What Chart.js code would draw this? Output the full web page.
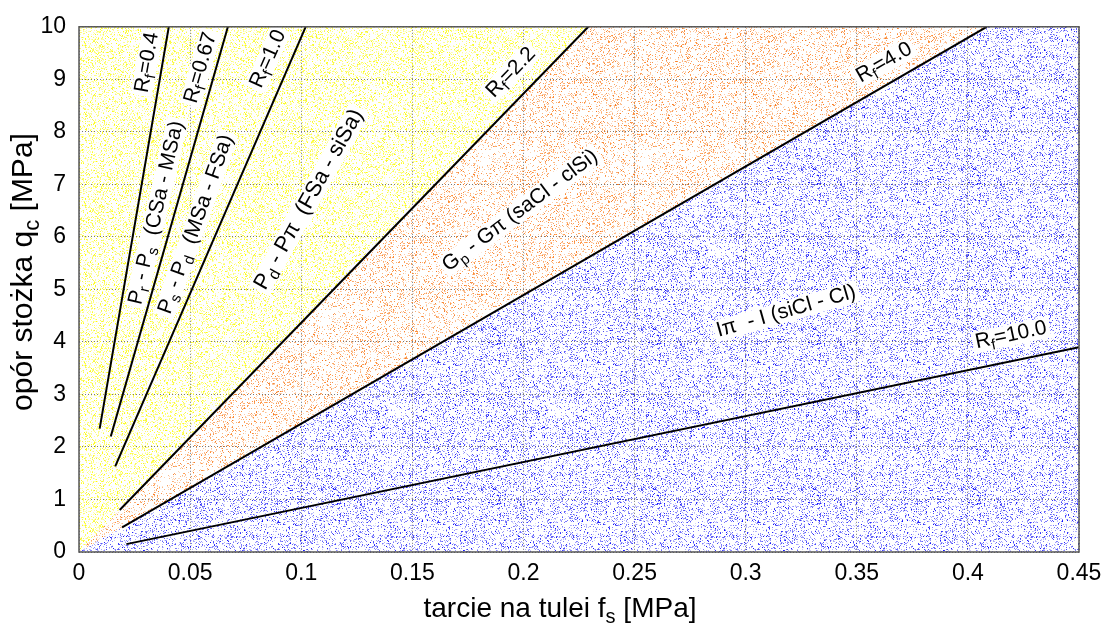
<!DOCTYPE html>
<html><head><meta charset="utf-8">
<script src="https://cdn.jsdelivr.net/npm/chart.js@4.4.0/dist/chart.umd.min.js"></script>
<style>html,body{margin:0;padding:0;background:#fff;}canvas{display:block;}</style>
</head><body>
<canvas id="c" width="1112" height="630"></canvas>
<script>
// ---- data ----
const rfNames = ["0.4", "0.67", "1.0", "2.2", "4.0", "10.0"];
const lineStartFs = [0.0093, 0.0143, 0.0163, 0.0183, 0.0194, 0.0213];
const lineStartQc = [2.35, 2.20, 1.63, 0.80, 0.47, 0.15];
const lineEndFs = [0.0404, 0.0670, 0.1020, 0.2292, 0.4085, 0.45];
const lineEndQc = [10, 10, 10, 10, 10, 3.90];

// zone boundaries (Rf=2.2 and Rf=4.0 lines extended to origin)
const zoneYellowFs = [0, 0.2292];
const zoneYellowQc = [0, 10];
const zoneOrangeFs = [0, 0.2292, 0.45];
const zoneOrangeQc = [0, 10, 10];
const zoneBlueFs = [0, 0.4085, 0.45];
const zoneBlueQc = [0, 10, 10];

const xTickLabels = ["0", "0.05", "0.1", "0.15", "0.2", "0.25", "0.3", "0.35", "0.4", "0.45"];
const yTickLabels = ["0", "1", "2", "3", "4", "5", "6", "7", "8", "9", "10"];

// ---- helpers ----
const FONT = "'Liberation Sans', Arial, Helvetica, sans-serif";
const pts = (xs, ys) => xs.map((x, i) => ({x: x, y: ys[i]}));

function makePattern(colors, density, seed) {
  const c = document.createElement('canvas');
  c.width = 160; c.height = 160;
  const g = c.getContext('2d');
  let s = seed >>> 0;
  const rnd = () => { s = (Math.imul(s, 1664525) + 1013904223) >>> 0; return s / 4294967296; };
  for (let y = 0; y < 160; y++) {
    for (let x = 0; x < 160; x++) {
      if (rnd() < density) {
        const col = colors[Math.floor(rnd() * colors.length)];
        const a = 0.25 + 0.75 * rnd();
        g.fillStyle = 'rgba(' + col + ',' + a.toFixed(2) + ')';
        g.fillRect(x, y, 1, 1);
      }
    }
  }
  return g.createPattern(c, 'repeat');
}

const ctx = document.getElementById('c').getContext('2d');
const patYellow = makePattern(['255,255,0', '245,245,30', '255,255,90'], 0.27, 12345);
const patOrange = makePattern(['255,135,40', '250,160,90', '245,120,30'], 0.19, 777);
const patBlue = makePattern(['10,10,255', '70,70,245', '120,120,250'], 0.23, 4242);

const lineDatasets = rfNames.map((n, i) => ({
  label: 'Rf=' + n,
  data: [{x: lineStartFs[i], y: lineStartQc[i]}, {x: lineEndFs[i], y: lineEndQc[i]}],
  showLine: true, borderColor: '#000', borderWidth: 2, pointRadius: 0, fill: false, order: 0
}));

const datasets = [
  ...lineDatasets,
  {label: 'zoneYellow', data: pts(zoneYellowFs, zoneYellowQc), showLine: true, borderWidth: 0,
   borderColor: 'rgba(0,0,0,0)', pointRadius: 0, backgroundColor: patYellow, fill: 'end', order: 3},
  {label: 'zoneBlue', data: pts(zoneBlueFs, zoneBlueQc), showLine: true, borderWidth: 0,
   borderColor: 'rgba(0,0,0,0)', pointRadius: 0, backgroundColor: patBlue, fill: 'origin', order: 2},
  {label: 'zoneOrange', data: pts(zoneOrangeFs, zoneOrangeQc), showLine: true, borderWidth: 0,
   borderColor: 'rgba(0,0,0,0)', pointRadius: 0, backgroundColor: patOrange, fill: 7, order: 2}
];

// text annotations placed in data coordinates
const annotations = [
  {fs: 0.0306, qc: 9.32, rot: -80, size: 21, parts: [["R"], ["f", 1], ["=0.4"]]},
  {fs: 0.0547, qc: 9.22, rot: -74, size: 21, parts: [["R"], ["f", 1], ["=0.67"]]},
  {fs: 0.0851, qc: 9.39, rot: -66, size: 21, parts: [["R"], ["f", 1], ["=1.0"]]},
  {fs: 0.1944, qc: 9.13, rot: -46, size: 21, parts: [["R"], ["f", 1], ["=2.2"]]},
  {fs: 0.3623, qc: 9.32, rot: -30, size: 21, parts: [["R"], ["f", 1], ["=4.0"]]},
  {fs: 0.4194, qc: 4.13, rot: -12, size: 21, parts: [["R"], ["f", 1], ["=10.0"]]},
  {fs: 0.0348, qc: 6.46, rot: -77, size: 21, parts: [["P"], ["r", 1], [" - P"], ["s", 1], ["  (CSa - MSa)"]]},
  {fs: 0.0526, qc: 6.24, rot: -70.5, size: 21, parts: [["P"], ["s", 1], [" - P"], ["d", 1], ["  (MSa - FSa)"]]},
  {fs: 0.1035, qc: 6.71, rot: -61, size: 22, parts: [["P"], ["d", 1], [" - P\u03c0  (FSa - siSa)"]]},
  {fs: 0.1985, qc: 6.50, rot: -37, size: 21, parts: [["G"], ["p", 1], [" - G\u03c0 (saCl - clSi)"]]},
  {fs: 0.3182, qc: 4.58, rot: -16, size: 21, parts: [["I\u03c0  - I (siCl - Cl)"]]}
];

function fontFor(p, size) { return (p[1] ? Math.round(size * 0.72) : size) + 'px ' + FONT; }

function measureParts(c, parts, size) {
  return parts.reduce((acc, p) => { c.font = fontFor(p, size); return acc + c.measureText(p[0]).width; }, 0);
}

function drawParts(c, parts, size, x0, y0, align) {
  const total = measureParts(c, parts, size);
  let x = align === 'center' ? x0 - total / 2 : x0;
  parts.forEach(p => {
    c.font = fontFor(p, size);
    c.fillText(p[0], x, y0 + (p[1] ? size * 0.3 : 0));
    x += c.measureText(p[0]).width;
  });
  return total;
}

const overlayPlugin = {
  id: 'overlay',
  afterDatasetsDraw(chart) {
    const c = chart.ctx, xs = chart.scales.x, ys = chart.scales.y, a = chart.chartArea;
    c.save();
    c.beginPath(); c.rect(a.left, a.top, a.right - a.left, a.bottom - a.top); c.clip();
    annotations.forEach(an => {
      const px = xs.getPixelForValue(an.fs), py = ys.getPixelForValue(an.qc);
      const size = an.size;
      c.save();
      c.translate(px, py);
      c.rotate(an.rot * Math.PI / 180);
      const w = measureParts(c, an.parts, size);
      c.fillStyle = '#fff';
      c.fillRect(-w / 2 - 3, -size * 0.5, w + 6, size * 1.0);
      c.fillStyle = '#000';
      c.textBaseline = 'middle';
      c.textAlign = 'left';
      drawParts(c, an.parts, size, 0, 0, 'center');
      c.restore();
    });
    c.restore();
    // frame
    c.save();
    c.strokeStyle = '#555';
    c.lineWidth = 1.5;
    c.strokeRect(a.left, a.top, a.right - a.left, a.bottom - a.top);
    c.restore();
  },
  afterDraw(chart) {
    const c = chart.ctx;
    c.save();
    c.fillStyle = '#000';
    c.textBaseline = 'middle';
    c.textAlign = 'left';
    drawParts(c, [["tarcie na tulei f"], ["s", 1], [" [MPa]"]], 28, 560, 609, 'center');
    c.translate(24, 272);
    c.rotate(-Math.PI / 2);
    drawParts(c, [["op\u00f3r sto\u017cka q"], ["c", 1], [" [MPa]"]], 30, 0, 0, 'center');
    c.restore();
  }
};

new Chart(ctx, {
  type: 'scatter',
  data: {datasets: datasets},
  options: {
    responsive: false,
    devicePixelRatio: 1,
    animation: false,
    layout: {padding: {top: 26, right: 33, left: 0, bottom: 0}},
    plugins: {legend: {display: false}, tooltip: {enabled: false}},
    scales: {
      x: {
        type: 'linear', min: 0, max: 0.45,
        afterFit(s) { s.height = 78; },
        ticks: {stepSize: 0.05, autoSkip: false, maxRotation: 0, padding: 8, color: '#000',
                font: {family: FONT, size: 23},
                callback: (v, i) => xTickLabels[i] !== undefined ? xTickLabels[i] : ''},
        grid: {color: '#777', lineWidth: 1, drawTicks: false},
        border: {display: false, dash: [1, 2]}
      },
      y: {
        type: 'linear', min: 0, max: 10,
        afterFit(s) { s.width = 79; },
        ticks: {stepSize: 1, autoSkip: false, padding: 13, color: '#000',
                font: {family: FONT, size: 23},
                callback: (v, i) => yTickLabels[i] !== undefined ? yTickLabels[i] : ''},
        grid: {color: '#777', lineWidth: 1, drawTicks: false},
        border: {display: false, dash: [1, 2]}
      }
    }
  },
  plugins: [overlayPlugin]
});
</script>
</body></html>
